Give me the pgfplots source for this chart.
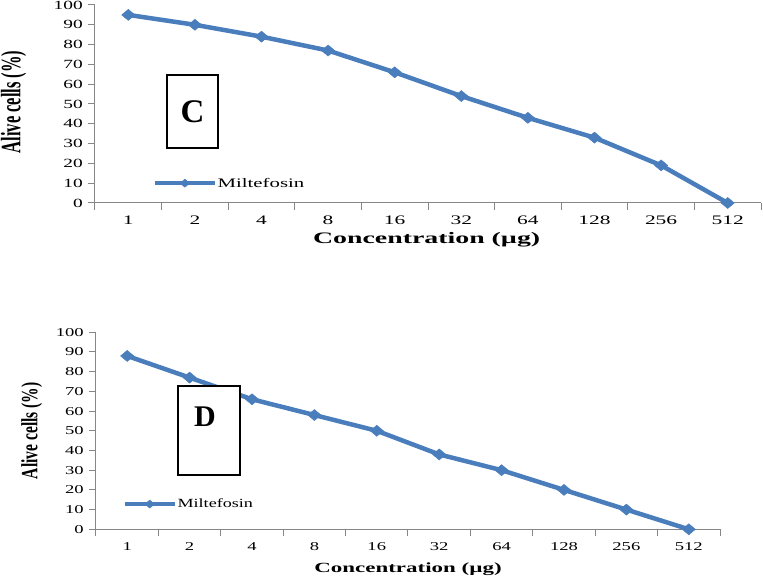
\documentclass[border=0pt]{standalone}
\usepackage{fontspec}
\setmainfont{Liberation Serif}
\usepackage{graphicx}
\usepackage{pgfplots}
\pgfplotsset{compat=1.18}
\definecolor{mblue}{RGB}{74,125,187}
\definecolor{axgray}{RGB}{134,134,134}
\newcommand{\hs}[2]{\scalebox{#1}[1]{#2}}
\newcommand{\fs}[1]{\fontsize{#1}{#1}\selectfont}
\pgfplotsset{
  panel/.style={
    scale only axis, anchor=south west, clip=false,
    xmin=-0.5, xmax=9.5, ymin=0, ymax=100,
    axis x line*=bottom, axis y line*=left,
    axis line style={axgray, line width=1pt, -},
    every tick/.style={axgray, line width=1pt},
    tick align=outside,
    major tick length=7pt, minor tick length=7pt,
    xtick={0,...,9}, minor xtick={-0.5,0.5,...,9.5},
    major x tick style={draw=none},
    ytick={0,10,...,100},
    xticklabel style={anchor=north, inner sep=0pt},
    yticklabel style={anchor=east, inner sep=0pt},
    legend cell align=left,
  },
  mline/.style={mblue, line width=4.5pt, mark=diamond*, mark size=5.5pt,
    mark options={solid, fill=mblue, draw=mblue, line width=0.5pt, xscale=1.6}},
}
\begin{document}
\begin{tikzpicture}[x=1pt,y=1pt]
\path[use as bounding box] (0,0) rectangle (763,578);

% ---------- Panel C ----------
\begin{axis}[panel,
  at={(95pt,375pt)}, width=666pt, height=198pt,
  xticklabels={\hs{1.65}{1},\hs{1.65}{2},\hs{1.65}{4},\hs{1.65}{8},\hs{1.65}{16},\hs{1.65}{32},\hs{1.65}{64},\hs{1.65}{128},\hs{1.65}{256},\hs{1.65}{512}},
  yticklabels={\hs{1.55}{0},\hs{1.55}{10},\hs{1.55}{20},\hs{1.55}{30},\hs{1.55}{40},\hs{1.55}{50},\hs{1.55}{60},\hs{1.55}{70},\hs{1.55}{80},\hs{1.55}{90},\hs{1.55}{100}},
  xticklabel style={font=\fs{13}, yshift=-6pt},
  yticklabel style={font=\fs{12.5}, xshift=-5pt},
  xlabel={\hs{1.74}{\bfseries Concentration (µg)}},
  xlabel style={font=\fs{16}, at={(axis description cs:0.498,-0.187)}, anchor=center},
  ylabel={\scalebox{1}[1.7]{\bfseries Alive cells (\%)}},
  ylabel style={font=\fs{16.5}, at={(axis description cs:-0.122,0.51)}, anchor=center},
  legend style={at={(axis description cs:0.087,0.10)}, anchor=west, draw=none, fill=none,
    inner sep=0pt, font=\fs{13}, nodes={inner xsep=1pt, inner ysep=0pt}},
  legend image code/.code={\draw[mark repeat=2, mark phase=2, #1, line width=3.5pt, mark size=4pt]
    plot coordinates {(0pt,0pt) (30pt,0pt) (60pt,0pt)};},
]
\addplot[mline] coordinates {(0,95) (1,90) (2,84) (3,77) (4,66) (5,54) (6,43) (7,33) (8,19) (9,0)};
\addlegendentry{\hs{1.6}{Miltefosin}}
\end{axis}
\node[draw=black, line width=1.2pt, fill=white, minimum width=51pt, minimum height=73pt, inner sep=0pt]
  at (192.5,466.5) {\fs{33}\bfseries C};

% ---------- Panel D ----------
\begin{axis}[panel,
  at={(96pt,48.7pt)}, width=624pt, height=197pt,
  xticklabels={\hs{1.55}{1},\hs{1.55}{2},\hs{1.55}{4},\hs{1.55}{8},\hs{1.55}{16},\hs{1.55}{32},\hs{1.55}{64},\hs{1.55}{128},\hs{1.55}{256},\hs{1.55}{512}},
  yticklabels={\hs{1.55}{0},\hs{1.55}{10},\hs{1.55}{20},\hs{1.55}{30},\hs{1.55}{40},\hs{1.55}{50},\hs{1.55}{60},\hs{1.55}{70},\hs{1.55}{80},\hs{1.55}{90},\hs{1.55}{100}},
  xticklabel style={font=\fs{12}, yshift=-6pt},
  yticklabel style={font=\fs{12}, xshift=-5pt},
  xlabel={\hs{1.64}{\bfseries Concentration (µg)}},
  xlabel style={font=\fs{14}, at={(axis description cs:0.50,-0.203)}, anchor=center},
  ylabel={\scalebox{1}[1.5]{\bfseries Alive cells (\%)}},
  ylabel style={font=\fs{15.5}, at={(axis description cs:-0.103,0.50)}, anchor=center},
  legend style={at={(axis description cs:0.043,0.128)}, anchor=west, draw=none, fill=none,
    inner sep=0pt, font=\fs{12.5}, nodes={inner xsep=1pt, inner ysep=0pt}},
  legend image code/.code={\draw[mark repeat=2, mark phase=2, #1, line width=3.5pt, mark size=4pt]
    plot coordinates {(0pt,0pt) (25pt,0pt) (50pt,0pt)};},
]
\addplot[mline] coordinates {(0,88) (1,77) (2,66) (3,58) (4,50) (5,38) (6,30) (7,20) (8,10) (9,0)};
\addlegendentry{\hs{1.45}{Miltefosin}}
\end{axis}
\node[draw=black, line width=1.2pt, fill=white, minimum width=62pt, minimum height=89pt, inner sep=0pt]
  at (209,147.5) {};
\node at (205,161) {\fs{30}\bfseries D};
\end{tikzpicture}
\end{document}
